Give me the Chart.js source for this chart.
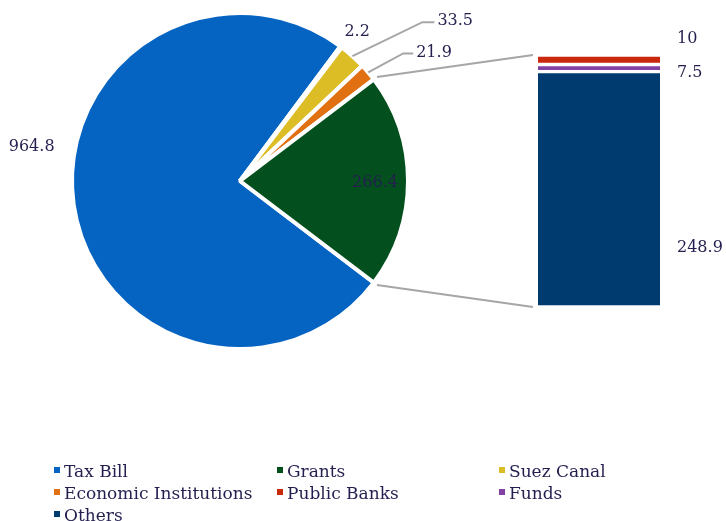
<!DOCTYPE html>
<html>
<head>
<meta charset="utf-8">
<script src="https://cdn.jsdelivr.net/npm/chart.js@4.4.0/dist/chart.umd.min.js"></script>
<style>
  body { margin: 0; background: #fff; }
  #wrap { position: relative; width: 726px; height: 521px; overflow: hidden; }
  #wrap canvas { position: absolute; left: 0; top: 0; }
  #legend {
    position: absolute; left: 54px; top: 460px;
    display: grid; grid-template-columns: 223px 222px 200px;
    font: 17px "DejaVu Serif", Georgia, serif; color: #231f4f;
  }
  #legend div { height: 22px; line-height: 22px; white-space: nowrap; }
  #legend span { display: inline-block; width: 6px; height: 6px; margin-right: 4px; vertical-align: 4px; }
</style>
</head>
<body>
<div id="wrap">
  <canvas id="pieChart" width="726" height="521"></canvas>
  <canvas id="barChart" width="726" height="521"></canvas>
  <div id="legend"></div>
</div>
<script>
// Pie: main categories, the unnamed 2.2 sliver sits between Tax Bill and Suez Canal
const pieLabels = ['Tax Bill', '', 'Suez Canal', 'Economic Institutions', 'Grants'];
const pieValues = [964.8, 2.2, 33.5, 21.9, 266.4];

// Bar: breakdown of Grants, bottom to top
const barLabels = ['Others', 'Funds', 'Public Banks'];
const barValues = [248.9, 7.5, 10];

const legendOrder = ['Tax Bill', 'Grants', 'Suez Canal', 'Economic Institutions', 'Public Banks', 'Funds', 'Others'];

const colors = {
  'Tax Bill': '#0563c1',
  '': '#ffffff',
  'Grants': '#03501e',
  'Suez Canal': '#dcbd26',
  'Economic Institutions': '#e07012',
  'Public Banks': '#c9280c',
  'Funds': '#8341a3',
  'Others': '#003b70'
};

const textColor = '#231f4f';
const lineColor = '#a6a6a6';
const labelFont = '16px "DejaVu Serif", Georgia, serif';

const total = pieValues.reduce((a, b) => a + b, 0);
const grantsAngle = pieValues[4] / total * 360;

// label offsets from the outer edge of each slice (leader = elbow and end of line)
const pieLabelPos = [
  { dx: -42, dy: -58 },
  { dx: 16, dy: -15 },
  { leader: [[70, -34], [82, -34]] },
  { leader: [[35, -19], [45, -19]] },
  { dx: -33, dy: 2 }
];
// bar label vertical offsets from each segment centre
const barLabelDy = [59, 5, -21];

function edgePoint(arc, angle, extra) {
  const r = arc.outerRadius + (extra || 0);
  return { x: arc.x + Math.cos(angle) * r, y: arc.y + Math.sin(angle) * r };
}

const pieLabelsPlugin = {
  id: 'pieLabels',
  afterDraw(chart) {
    const ctx = chart.ctx;
    const arcs = chart.getDatasetMeta(0).data;
    ctx.save();
    ctx.font = labelFont;
    ctx.fillStyle = textColor;
    ctx.textBaseline = 'middle';
    arcs.forEach((arc, i) => {
      const mid = (arc.startAngle + arc.endAngle) / 2;
      const p = edgePoint(arc, mid, 0);
      const pos = pieLabelPos[i];
      const text = String(pieValues[i]);
      if (pos.leader) {
        const [e1, e2] = pos.leader;
        ctx.strokeStyle = lineColor;
        ctx.lineWidth = 2;
        ctx.beginPath();
        ctx.moveTo(p.x, p.y);
        ctx.lineTo(p.x + e1[0], p.y + e1[1]);
        ctx.lineTo(p.x + e2[0], p.y + e2[1]);
        ctx.stroke();
        ctx.textAlign = 'left';
        ctx.fillText(text, p.x + e2[0] + 3, p.y + e2[1] - 1);
      } else {
        ctx.textAlign = 'center';
        ctx.fillText(text, p.x + pos.dx, p.y + pos.dy);
      }
    });
    ctx.restore();
  }
};

const pieChart = new Chart(document.getElementById('pieChart'), {
  type: 'pie',
  data: {
    labels: pieLabels,
    datasets: [{
      data: pieValues,
      backgroundColor: pieLabels.map(l => colors[l]),
      borderColor: '#ffffff',
      borderWidth: 4
    }]
  },
  options: {
    responsive: false,
    animation: false,
    rotation: 90 + grantsAngle / 2,
    layout: { padding: { left: 70, top: 11, right: 316, bottom: 170 } },
    plugins: { legend: { display: false }, tooltip: { enabled: false } },
    events: []
  },
  plugins: [pieLabelsPlugin]
});

const barExtrasPlugin = {
  id: 'barExtras',
  afterDraw(chart) {
    const ctx = chart.ctx;
    ctx.save();
    // connector lines from the Grants slice to the stacked bar
    const grants = pieChart.getDatasetMeta(0).data[4];
    const bottomBar = chart.getDatasetMeta(0).data[0];
    const topBar = chart.getDatasetMeta(barValues.length - 1).data[0];
    const left = bottomBar.x - bottomBar.width / 2 - 5;
    const a = edgePoint(grants, grants.startAngle, 4);
    const b = edgePoint(grants, grants.endAngle, 4);
    ctx.strokeStyle = lineColor;
    ctx.lineWidth = 2;
    ctx.beginPath();
    ctx.moveTo(a.x, a.y);
    ctx.lineTo(left, topBar.y);
    ctx.moveTo(b.x, b.y);
    ctx.lineTo(left, bottomBar.base);
    ctx.stroke();

    // value labels to the right of each segment
    ctx.font = labelFont;
    ctx.fillStyle = textColor;
    ctx.textAlign = 'left';
    ctx.textBaseline = 'middle';
    barValues.forEach((v, i) => {
      const bar = chart.getDatasetMeta(i).data[0];
      const cy = (bar.y + bar.base) / 2;
      ctx.fillText(String(v), bar.x + bar.width / 2 + 17, cy + barLabelDy[i]);
    });
    ctx.restore();
  }
};

new Chart(document.getElementById('barChart'), {
  type: 'bar',
  data: {
    labels: ['Grants'],
    datasets: barLabels.map((l, i) => ({
      label: l,
      data: [barValues[i]],
      backgroundColor: colors[l],
      borderColor: '#ffffff',
      borderWidth: { top: 2, bottom: 2, left: 0, right: 0 },
      borderSkipped: false,
      barPercentage: 1,
      categoryPercentage: 1
    }))
  },
  options: {
    responsive: false,
    animation: false,
    layout: { padding: { left: 538, right: 66, top: 55, bottom: 214 } },
    scales: {
      x: { display: false, stacked: true },
      y: { display: false, stacked: true, min: 0, max: barValues.reduce((a, b) => a + b, 0) }
    },
    plugins: { legend: { display: false }, tooltip: { enabled: false } },
    events: []
  },
  plugins: [barExtrasPlugin]
});

// legend for both charts
const legend = document.getElementById('legend');
legendOrder.forEach(name => {
  const item = document.createElement('div');
  const box = document.createElement('span');
  box.style.background = colors[name];
  item.appendChild(box);
  item.appendChild(document.createTextNode(name));
  legend.appendChild(item);
});
</script>
</body>
</html>
